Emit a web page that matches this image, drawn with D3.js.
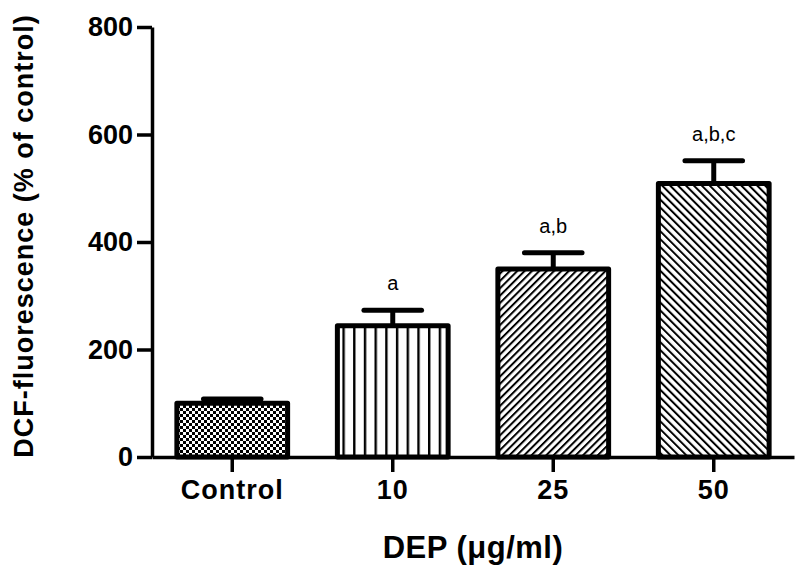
<!DOCTYPE html>
<html>
<head>
<meta charset="utf-8">
<script src="https://cdn.jsdelivr.net/npm/d3@7"></script>
<style>
  html, body { margin: 0; padding: 0; background: #fff; }
  svg { display: block; }
</style>
</head>
<body>
<svg id="chart" width="800" height="567"></svg>
<script>
// ---- data ----
const categories = ["Control", "10", "25", "50"];
const means = [100, 244, 350, 509];
const errors = [8, 29, 30, 42];
const sigLabels = ["", "a", "a,b", "a,b,c"];
const yTicks = [0, 200, 400, 600, 800];
const patterns = ["checker", "vert", "diagUp", "diagDown"];

const svg = d3.select("#chart");
const W = 800, H = 567;
const margin = { left: 152, right: 6, top: 27, bottom: 110 };
const FONT = "Liberation Sans, Arial, Helvetica, sans-serif";

const x = d3.scaleBand()
  .domain(categories)
  .range([margin.left, W - margin.right])
  .paddingInner(0.31)
  .paddingOuter(0.155);

const y = d3.scaleLinear()
  .domain([0, 800])
  .range([H - margin.bottom, margin.top]);

// ---- patterns ----
const defs = svg.append("defs");
const pc = defs.append("pattern").attr("id", "checker")
  .attr("patternUnits", "userSpaceOnUse").attr("width", 6).attr("height", 6);
pc.append("rect").attr("width", 6).attr("height", 6).attr("fill", "#fff");
pc.append("rect").attr("width", 3).attr("height", 3).attr("fill", "#000");
pc.append("rect").attr("x", 3).attr("y", 3).attr("width", 3).attr("height", 3).attr("fill", "#000");

const pv = defs.append("pattern").attr("id", "vert")
  .attr("patternUnits", "userSpaceOnUse").attr("width", 10.7).attr("height", 10);
pv.append("rect").attr("width", 10.7).attr("height", 10).attr("fill", "#fff");
pv.append("rect").attr("x", 0).attr("width", 2.4).attr("height", 10).attr("fill", "#000");

function diag(id, angle, spacing, sw) {
  const p = defs.append("pattern").attr("id", id)
    .attr("patternUnits", "userSpaceOnUse")
    .attr("width", spacing).attr("height", spacing)
    .attr("patternTransform", `rotate(${angle})`);
  p.append("rect").attr("width", spacing).attr("height", spacing).attr("fill", "#fff");
  p.append("rect").attr("x", 0).attr("width", sw).attr("height", spacing).attr("fill", "#000");
}
diag("diagUp", 45, 5.2, 2);
diag("diagDown", -45, 5.6, 2);

// ---- bars ----
const bw = x.bandwidth();
const g = svg.append("g");
categories.forEach((c, i) => {
  g.append("rect")
    .attr("x", x(c))
    .attr("y", y(means[i]))
    .attr("width", bw)
    .attr("height", y(0) - y(means[i]))
    .attr("fill", `url(#${patterns[i]})`)
    .attr("stroke", "#000")
    .attr("stroke-width", 5)
    .attr("stroke-linejoin", "round");
  const cx = x(c) + bw / 2;
  g.append("line")
    .attr("x1", cx).attr("x2", cx)
    .attr("y1", y(means[i])).attr("y2", y(means[i] + errors[i]))
    .attr("stroke", "#000").attr("stroke-width", 5);
  g.append("line")
    .attr("x1", cx - bw * 0.26).attr("x2", cx + bw * 0.26)
    .attr("y1", y(means[i] + errors[i])).attr("y2", y(means[i] + errors[i]))
    .attr("stroke", "#000").attr("stroke-width", 5).attr("stroke-linecap", "round");
  if (sigLabels[i]) {
    g.append("text")
      .attr("x", cx)
      .attr("y", y(means[i] + errors[i]) - 20)
      .attr("text-anchor", "middle")
      .attr("font-family", FONT)
      .attr("font-size", 20)
      .attr("fill", "#000")
      .text(sigLabels[i]);
  }
});

// ---- axes ----
const yAxis = d3.axisLeft(y).tickValues(yTicks).tickSize(15).tickPadding(4).tickSizeOuter(0);
const ya = svg.append("g").attr("transform", `translate(${margin.left},0)`).call(yAxis);
ya.select(".domain").attr("stroke-width", 3.5);
ya.selectAll(".tick line").attr("stroke-width", 3.5);
ya.selectAll("text")
  .attr("font-family", FONT)
  .attr("font-weight", "bold").attr("font-size", 27).attr("fill", "#000");

const xAxis = d3.axisBottom(x).tickSize(15).tickPadding(8).tickSizeOuter(0);
const xa = svg.append("g").attr("transform", `translate(0,${y(0)})`).call(xAxis);
xa.select(".domain").attr("stroke-width", 3.5);
xa.selectAll(".tick line").attr("stroke-width", 3.5);
xa.selectAll("text")
  .attr("font-family", FONT)
  .attr("font-weight", "bold").attr("font-size", 27).attr("fill", "#000")
  .attr("letter-spacing", 1);

// ---- titles ----
svg.append("text")
  .attr("x", (margin.left + W - margin.right) / 2)
  .attr("y", 558)
  .attr("text-anchor", "middle")
  .attr("font-family", FONT)
  .attr("font-weight", "bold").attr("font-size", 31)
  .attr("letter-spacing", 0.5)
  .text("DEP (μg/ml)");

svg.append("text")
  .attr("transform", `translate(33, ${(y(0) + y(800)) / 2 - 6}) rotate(-90)`)
  .attr("text-anchor", "middle")
  .attr("font-family", FONT)
  .attr("font-weight", "bold").attr("font-size", 27)
  .attr("letter-spacing", 1)
  .text("DCF-fluorescence (% of control)");
</script>
</body>
</html>
